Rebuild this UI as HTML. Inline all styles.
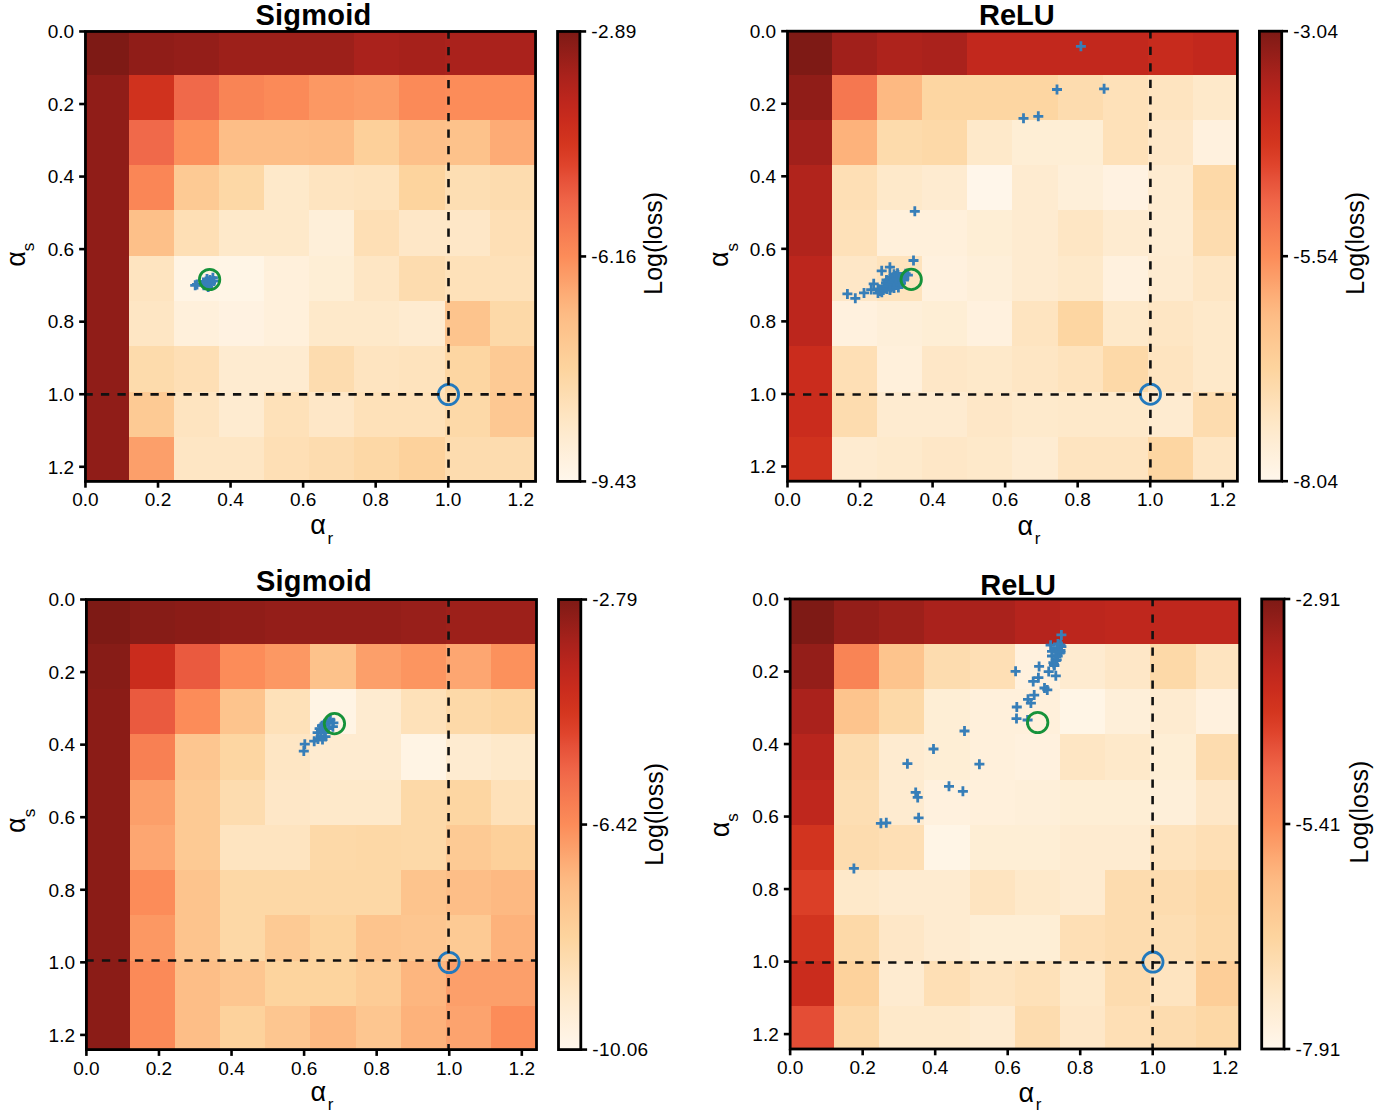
<!DOCTYPE html>
<html><head><meta charset="utf-8"><style>
html,body{margin:0;padding:0;background:#fff;}
body{width:1377px;height:1116px;overflow:hidden;}
svg{display:block;font-family:"Liberation Sans", sans-serif;}
</style></head><body>
<svg width="1377" height="1116" viewBox="0 0 1377 1116">
<g shape-rendering="crispEdges"><rect x="85.45" y="31.45" width="43.75" height="43.65" fill="#7e1a15"/><rect x="128.80" y="31.45" width="45.50" height="43.65" fill="#901d18"/><rect x="173.90" y="31.45" width="45.50" height="43.65" fill="#941e19"/><rect x="219.00" y="31.45" width="45.50" height="43.65" fill="#9d201a"/><rect x="264.10" y="31.45" width="45.50" height="43.65" fill="#9d201a"/><rect x="309.20" y="31.45" width="45.50" height="43.65" fill="#9d201a"/><rect x="354.30" y="31.45" width="45.50" height="43.65" fill="#aa221c"/><rect x="399.40" y="31.45" width="45.50" height="43.65" fill="#a6211b"/><rect x="444.50" y="31.45" width="45.50" height="43.65" fill="#aa221c"/><rect x="489.60" y="31.45" width="46.36" height="43.65" fill="#aa221c"/><rect x="85.45" y="74.70" width="43.75" height="45.66" fill="#901d18"/><rect x="128.80" y="74.70" width="45.50" height="45.66" fill="#d0321e"/><rect x="173.90" y="74.70" width="45.50" height="45.66" fill="#f0694a"/><rect x="219.00" y="74.70" width="45.50" height="45.66" fill="#f98455"/><rect x="264.10" y="74.70" width="45.50" height="45.66" fill="#fb8a58"/><rect x="309.20" y="74.70" width="45.50" height="45.66" fill="#fc9863"/><rect x="354.30" y="74.70" width="45.50" height="45.66" fill="#fc9c67"/><rect x="399.40" y="74.70" width="45.50" height="45.66" fill="#fb8a58"/><rect x="444.50" y="74.70" width="45.50" height="45.66" fill="#fc8c59"/><rect x="489.60" y="74.70" width="46.36" height="45.66" fill="#fc8c59"/><rect x="85.45" y="119.96" width="43.75" height="45.66" fill="#901d18"/><rect x="128.80" y="119.96" width="45.50" height="45.66" fill="#f0694a"/><rect x="173.90" y="119.96" width="45.50" height="45.66" fill="#fc915c"/><rect x="219.00" y="119.96" width="45.50" height="45.66" fill="#fdbe87"/><rect x="264.10" y="119.96" width="45.50" height="45.66" fill="#fdbe87"/><rect x="309.20" y="119.96" width="45.50" height="45.66" fill="#fdbc85"/><rect x="354.30" y="119.96" width="45.50" height="45.66" fill="#fdd09a"/><rect x="399.40" y="119.96" width="45.50" height="45.66" fill="#fdc089"/><rect x="444.50" y="119.96" width="45.50" height="45.66" fill="#fdc28b"/><rect x="489.60" y="119.96" width="46.36" height="45.66" fill="#fdab75"/><rect x="85.45" y="165.22" width="43.75" height="45.66" fill="#901d18"/><rect x="128.80" y="165.22" width="45.50" height="45.66" fill="#fa8656"/><rect x="173.90" y="165.22" width="45.50" height="45.66" fill="#fdca94"/><rect x="219.00" y="165.22" width="45.50" height="45.66" fill="#fdd8a6"/><rect x="264.10" y="165.22" width="45.50" height="45.66" fill="#fee9ca"/><rect x="309.20" y="165.22" width="45.50" height="45.66" fill="#fee4c0"/><rect x="354.30" y="165.22" width="45.50" height="45.66" fill="#fee3bd"/><rect x="399.40" y="165.22" width="45.50" height="45.66" fill="#fdd49e"/><rect x="444.50" y="165.22" width="45.50" height="45.66" fill="#fddeb3"/><rect x="489.60" y="165.22" width="46.36" height="45.66" fill="#fddcaf"/><rect x="85.45" y="210.48" width="43.75" height="45.66" fill="#901d18"/><rect x="128.80" y="210.48" width="45.50" height="45.66" fill="#fdc089"/><rect x="173.90" y="210.48" width="45.50" height="45.66" fill="#fedfb5"/><rect x="219.00" y="210.48" width="45.50" height="45.66" fill="#fee9ca"/><rect x="264.10" y="210.48" width="45.50" height="45.66" fill="#fee9ca"/><rect x="309.20" y="210.48" width="45.50" height="45.66" fill="#feefd9"/><rect x="354.30" y="210.48" width="45.50" height="45.66" fill="#fedfb5"/><rect x="399.40" y="210.48" width="45.50" height="45.66" fill="#fee7c7"/><rect x="444.50" y="210.48" width="45.50" height="45.66" fill="#fee7c7"/><rect x="489.60" y="210.48" width="46.36" height="45.66" fill="#fedfb5"/><rect x="85.45" y="255.74" width="43.75" height="45.66" fill="#901d18"/><rect x="128.80" y="255.74" width="45.50" height="45.66" fill="#fee4c0"/><rect x="173.90" y="255.74" width="45.50" height="45.66" fill="#fff4e4"/><rect x="219.00" y="255.74" width="45.50" height="45.66" fill="#fff5e6"/><rect x="264.10" y="255.74" width="45.50" height="45.66" fill="#fff0db"/><rect x="309.20" y="255.74" width="45.50" height="45.66" fill="#feeed5"/><rect x="354.30" y="255.74" width="45.50" height="45.66" fill="#fee6c4"/><rect x="399.40" y="255.74" width="45.50" height="45.66" fill="#fddcaf"/><rect x="444.50" y="255.74" width="45.50" height="45.66" fill="#fee1b9"/><rect x="489.60" y="255.74" width="46.36" height="45.66" fill="#fee1b9"/><rect x="85.45" y="301.00" width="43.75" height="45.66" fill="#901d18"/><rect x="128.80" y="301.00" width="45.50" height="45.66" fill="#fee6c4"/><rect x="173.90" y="301.00" width="45.50" height="45.66" fill="#fff0db"/><rect x="219.00" y="301.00" width="45.50" height="45.66" fill="#fff2e1"/><rect x="264.10" y="301.00" width="45.50" height="45.66" fill="#fff0db"/><rect x="309.20" y="301.00" width="45.50" height="45.66" fill="#fee9ca"/><rect x="354.30" y="301.00" width="45.50" height="45.66" fill="#fee9ca"/><rect x="399.40" y="301.00" width="45.50" height="45.66" fill="#feebd0"/><rect x="444.50" y="301.00" width="45.50" height="45.66" fill="#fdc48d"/><rect x="489.60" y="301.00" width="46.36" height="45.66" fill="#fdd9a8"/><rect x="85.45" y="346.26" width="43.75" height="45.66" fill="#901d18"/><rect x="128.80" y="346.26" width="45.50" height="45.66" fill="#fddbac"/><rect x="173.90" y="346.26" width="45.50" height="45.66" fill="#fedfb5"/><rect x="219.00" y="346.26" width="45.50" height="45.66" fill="#feebd0"/><rect x="264.10" y="346.26" width="45.50" height="45.66" fill="#feebd0"/><rect x="309.20" y="346.26" width="45.50" height="45.66" fill="#fddcaf"/><rect x="354.30" y="346.26" width="45.50" height="45.66" fill="#fee4c0"/><rect x="399.40" y="346.26" width="45.50" height="45.66" fill="#fee3bd"/><rect x="444.50" y="346.26" width="45.50" height="45.66" fill="#fdd6a2"/><rect x="489.60" y="346.26" width="46.36" height="45.66" fill="#fdca94"/><rect x="85.45" y="391.52" width="43.75" height="45.66" fill="#901d18"/><rect x="128.80" y="391.52" width="45.50" height="45.66" fill="#fdca94"/><rect x="173.90" y="391.52" width="45.50" height="45.66" fill="#fee4c0"/><rect x="219.00" y="391.52" width="45.50" height="45.66" fill="#feebd0"/><rect x="264.10" y="391.52" width="45.50" height="45.66" fill="#fee1b9"/><rect x="309.20" y="391.52" width="45.50" height="45.66" fill="#fee7c7"/><rect x="354.30" y="391.52" width="45.50" height="45.66" fill="#fee1b9"/><rect x="399.40" y="391.52" width="45.50" height="45.66" fill="#fee1b9"/><rect x="444.50" y="391.52" width="45.50" height="45.66" fill="#fdd9a8"/><rect x="489.60" y="391.52" width="46.36" height="45.66" fill="#fdc892"/><rect x="85.45" y="436.78" width="43.75" height="45.02" fill="#901d18"/><rect x="128.80" y="436.78" width="45.50" height="45.02" fill="#fc9f6a"/><rect x="173.90" y="436.78" width="45.50" height="45.02" fill="#fee6c4"/><rect x="219.00" y="436.78" width="45.50" height="45.02" fill="#fee6c4"/><rect x="264.10" y="436.78" width="45.50" height="45.02" fill="#fedfb5"/><rect x="309.20" y="436.78" width="45.50" height="45.02" fill="#fddcaf"/><rect x="354.30" y="436.78" width="45.50" height="45.02" fill="#fdd8a6"/><rect x="399.40" y="436.78" width="45.50" height="45.02" fill="#fdd29c"/><rect x="444.50" y="436.78" width="45.50" height="45.02" fill="#fddcaf"/><rect x="489.60" y="436.78" width="46.36" height="45.02" fill="#fddcaf"/></g>
<circle cx="448.50" cy="394.50" r="10.1" stroke="#2379bd" stroke-width="2.8" fill="none"/>
<line x1="448.50" y1="31.45" x2="448.50" y2="481.40" stroke="#111" stroke-width="2.6" stroke-dasharray="8.3 8.2" stroke-dashoffset="1.0"/>
<line x1="85.45" y1="394.40" x2="535.56" y2="394.40" stroke="#111" stroke-width="2.6" stroke-dasharray="8.3 8.2" stroke-dashoffset="1.0"/>
<path d="M190.20 285.30h10M195.20 280.30v10" stroke="#377eb8" stroke-width="2.8" fill="none"/>
<path d="M192.00 284.50h10M197.00 279.50v10" stroke="#377eb8" stroke-width="2.8" fill="none"/>
<path d="M198.80 285.20h10M203.80 280.20v10" stroke="#377eb8" stroke-width="2.8" fill="none"/>
<path d="M201.00 281.50h10M206.00 276.50v10" stroke="#377eb8" stroke-width="2.8" fill="none"/>
<path d="M203.20 287.00h10M208.20 282.00v10" stroke="#377eb8" stroke-width="2.8" fill="none"/>
<path d="M202.00 278.90h10M207.00 273.90v10" stroke="#377eb8" stroke-width="2.8" fill="none"/>
<path d="M205.00 280.00h10M210.00 275.00v10" stroke="#377eb8" stroke-width="2.8" fill="none"/>
<path d="M207.90 277.70h10M212.90 272.70v10" stroke="#377eb8" stroke-width="2.8" fill="none"/>
<path d="M206.00 283.00h10M211.00 278.00v10" stroke="#377eb8" stroke-width="2.8" fill="none"/>
<path d="M209.00 281.00h10M214.00 276.00v10" stroke="#377eb8" stroke-width="2.8" fill="none"/>
<path d="M200.00 283.00h10M205.00 278.00v10" stroke="#377eb8" stroke-width="2.8" fill="none"/>
<path d="M204.00 284.00h10M209.00 279.00v10" stroke="#377eb8" stroke-width="2.8" fill="none"/>
<circle cx="209.60" cy="279.50" r="10.2" stroke="#16923a" stroke-width="2.8" fill="none"/>
<rect x="85.45" y="31.45" width="450.11" height="449.95" fill="none" stroke="#000" stroke-width="2.8"/>
<line x1="79.15" y1="31.45" x2="85.45" y2="31.45" stroke="#000" stroke-width="2.6"/>
<text x="74.05" y="38.25" text-anchor="end" font-size="19">0.0</text>
<line x1="85.45" y1="481.40" x2="85.45" y2="487.70" stroke="#000" stroke-width="2.6"/>
<text x="85.45" y="506.40" text-anchor="middle" font-size="19">0.0</text>
<line x1="79.15" y1="104.01" x2="85.45" y2="104.01" stroke="#000" stroke-width="2.6"/>
<text x="74.05" y="110.81" text-anchor="end" font-size="19">0.2</text>
<line x1="158.01" y1="481.40" x2="158.01" y2="487.70" stroke="#000" stroke-width="2.6"/>
<text x="158.01" y="506.40" text-anchor="middle" font-size="19">0.2</text>
<line x1="79.15" y1="176.56" x2="85.45" y2="176.56" stroke="#000" stroke-width="2.6"/>
<text x="74.05" y="183.36" text-anchor="end" font-size="19">0.4</text>
<line x1="230.56" y1="481.40" x2="230.56" y2="487.70" stroke="#000" stroke-width="2.6"/>
<text x="230.56" y="506.40" text-anchor="middle" font-size="19">0.4</text>
<line x1="79.15" y1="249.12" x2="85.45" y2="249.12" stroke="#000" stroke-width="2.6"/>
<text x="74.05" y="255.92" text-anchor="end" font-size="19">0.6</text>
<line x1="303.12" y1="481.40" x2="303.12" y2="487.70" stroke="#000" stroke-width="2.6"/>
<text x="303.12" y="506.40" text-anchor="middle" font-size="19">0.6</text>
<line x1="79.15" y1="321.67" x2="85.45" y2="321.67" stroke="#000" stroke-width="2.6"/>
<text x="74.05" y="328.47" text-anchor="end" font-size="19">0.8</text>
<line x1="375.67" y1="481.40" x2="375.67" y2="487.70" stroke="#000" stroke-width="2.6"/>
<text x="375.67" y="506.40" text-anchor="middle" font-size="19">0.8</text>
<line x1="79.15" y1="394.23" x2="85.45" y2="394.23" stroke="#000" stroke-width="2.6"/>
<text x="74.05" y="401.03" text-anchor="end" font-size="19">1.0</text>
<line x1="448.23" y1="481.40" x2="448.23" y2="487.70" stroke="#000" stroke-width="2.6"/>
<text x="448.23" y="506.40" text-anchor="middle" font-size="19">1.0</text>
<line x1="79.15" y1="466.79" x2="85.45" y2="466.79" stroke="#000" stroke-width="2.6"/>
<text x="74.05" y="473.59" text-anchor="end" font-size="19">1.2</text>
<line x1="520.79" y1="481.40" x2="520.79" y2="487.70" stroke="#000" stroke-width="2.6"/>
<text x="520.79" y="506.40" text-anchor="middle" font-size="19">1.2</text>
<text x="310.25" y="534.40" font-size="27">α</text>
<text x="327.45" y="543.80" font-size="17">r</text>
<g transform="translate(25.05 266.85) rotate(-90)"><text x="0" y="0" font-size="27">α</text><text x="15.6" y="9.4" font-size="17">s</text></g>
<text x="313.50" y="25.00" text-anchor="middle" font-size="29" font-weight="bold" letter-spacing="0.25">Sigmoid</text>
<defs><linearGradient id="gTL" x1="0" y1="1" x2="0" y2="0"><stop offset="0.000" stop-color="#fff7ec"/><stop offset="0.025" stop-color="#fff4e5"/><stop offset="0.050" stop-color="#fff1de"/><stop offset="0.075" stop-color="#feeed7"/><stop offset="0.100" stop-color="#feebd0"/><stop offset="0.125" stop-color="#fee8c8"/><stop offset="0.150" stop-color="#fee4c0"/><stop offset="0.175" stop-color="#fee0b8"/><stop offset="0.200" stop-color="#fddcaf"/><stop offset="0.225" stop-color="#fdd8a7"/><stop offset="0.250" stop-color="#fdd49e"/><stop offset="0.275" stop-color="#fdcf99"/><stop offset="0.300" stop-color="#fdca94"/><stop offset="0.325" stop-color="#fdc58e"/><stop offset="0.350" stop-color="#fdc089"/><stop offset="0.375" stop-color="#fdba83"/><stop offset="0.400" stop-color="#fdb27b"/><stop offset="0.425" stop-color="#fda973"/><stop offset="0.450" stop-color="#fc9f6a"/><stop offset="0.475" stop-color="#fc9662"/><stop offset="0.500" stop-color="#fc8c59"/><stop offset="0.525" stop-color="#f98556"/><stop offset="0.550" stop-color="#f77d52"/><stop offset="0.575" stop-color="#f4754f"/><stop offset="0.600" stop-color="#f26d4b"/><stop offset="0.625" stop-color="#ef6447"/><stop offset="0.650" stop-color="#ea5a3f"/><stop offset="0.675" stop-color="#e55038"/><stop offset="0.700" stop-color="#e0452d"/><stop offset="0.725" stop-color="#da3d26"/><stop offset="0.750" stop-color="#d4361f"/><stop offset="0.775" stop-color="#cf311e"/><stop offset="0.800" stop-color="#ca2c1d"/><stop offset="0.825" stop-color="#c3291d"/><stop offset="0.850" stop-color="#bc261d"/><stop offset="0.875" stop-color="#b3241c"/><stop offset="0.900" stop-color="#aa221c"/><stop offset="0.925" stop-color="#9f201a"/><stop offset="0.950" stop-color="#941e19"/><stop offset="0.975" stop-color="#891c17"/><stop offset="1.000" stop-color="#7e1a15"/></linearGradient></defs>
<rect x="557.56" y="31.45" width="22.30" height="449.95" fill="url(#gTL)" stroke="#000" stroke-width="2.8"/>
<line x1="579.86" y1="31.45" x2="586.16" y2="31.45" stroke="#000" stroke-width="2.6"/>
<text x="591.36" y="38.15" font-size="19" letter-spacing="0.4">-2.89</text>
<line x1="579.86" y1="256.43" x2="586.16" y2="256.43" stroke="#000" stroke-width="2.6"/>
<text x="591.36" y="263.12" font-size="19" letter-spacing="0.4">-6.16</text>
<line x1="579.86" y1="481.40" x2="586.16" y2="481.40" stroke="#000" stroke-width="2.6"/>
<text x="591.36" y="488.10" font-size="19" letter-spacing="0.4">-9.43</text>
<text transform="translate(661.70 243.35) rotate(-90)" text-anchor="middle" font-size="25">Log(loss)</text>
<g shape-rendering="crispEdges"><rect x="787.50" y="31.20" width="44.80" height="43.90" fill="#7e1a15"/><rect x="831.90" y="31.20" width="45.52" height="43.90" fill="#a1201b"/><rect x="877.02" y="31.20" width="45.52" height="43.90" fill="#ae231c"/><rect x="922.15" y="31.20" width="45.52" height="43.90" fill="#aa221c"/><rect x="967.27" y="31.20" width="45.52" height="43.90" fill="#c2281d"/><rect x="1012.40" y="31.20" width="45.53" height="43.90" fill="#c2281d"/><rect x="1057.53" y="31.20" width="45.52" height="43.90" fill="#c2281d"/><rect x="1102.65" y="31.20" width="45.52" height="43.90" fill="#c2281d"/><rect x="1147.78" y="31.20" width="45.52" height="43.90" fill="#c72b1d"/><rect x="1192.90" y="31.20" width="44.90" height="43.90" fill="#c2281d"/><rect x="787.50" y="74.70" width="44.80" height="45.66" fill="#901d18"/><rect x="831.90" y="74.70" width="45.52" height="45.66" fill="#f57750"/><rect x="877.02" y="74.70" width="45.52" height="45.66" fill="#fdb982"/><rect x="922.15" y="74.70" width="45.52" height="45.66" fill="#fdd6a2"/><rect x="967.27" y="74.70" width="45.52" height="45.66" fill="#fdd6a2"/><rect x="1012.40" y="74.70" width="45.53" height="45.66" fill="#fdd6a2"/><rect x="1057.53" y="74.70" width="45.52" height="45.66" fill="#fddcaf"/><rect x="1102.65" y="74.70" width="45.52" height="45.66" fill="#fee1b9"/><rect x="1147.78" y="74.70" width="45.52" height="45.66" fill="#fee4c0"/><rect x="1192.90" y="74.70" width="44.90" height="45.66" fill="#fee9ca"/><rect x="787.50" y="119.96" width="44.80" height="45.66" fill="#a1201b"/><rect x="831.90" y="119.96" width="45.52" height="45.66" fill="#fdb27b"/><rect x="877.02" y="119.96" width="45.52" height="45.66" fill="#fddbac"/><rect x="922.15" y="119.96" width="45.52" height="45.66" fill="#fdd9a8"/><rect x="967.27" y="119.96" width="45.52" height="45.66" fill="#fee9ca"/><rect x="1012.40" y="119.96" width="45.53" height="45.66" fill="#feeed5"/><rect x="1057.53" y="119.96" width="45.52" height="45.66" fill="#feeed5"/><rect x="1102.65" y="119.96" width="45.52" height="45.66" fill="#fee1b9"/><rect x="1147.78" y="119.96" width="45.52" height="45.66" fill="#fee7c7"/><rect x="1192.90" y="119.96" width="44.90" height="45.66" fill="#fff1de"/><rect x="787.50" y="165.22" width="44.80" height="45.66" fill="#b1241c"/><rect x="831.90" y="165.22" width="45.52" height="45.66" fill="#fedfb5"/><rect x="877.02" y="165.22" width="45.52" height="45.66" fill="#fee9ca"/><rect x="922.15" y="165.22" width="45.52" height="45.66" fill="#feebd0"/><rect x="967.27" y="165.22" width="45.52" height="45.66" fill="#fff6ea"/><rect x="1012.40" y="165.22" width="45.53" height="45.66" fill="#feebd0"/><rect x="1057.53" y="165.22" width="45.52" height="45.66" fill="#feefd9"/><rect x="1102.65" y="165.22" width="45.52" height="45.66" fill="#fff2e1"/><rect x="1147.78" y="165.22" width="45.52" height="45.66" fill="#feebd0"/><rect x="1192.90" y="165.22" width="44.90" height="45.66" fill="#fdd9a8"/><rect x="787.50" y="210.48" width="44.80" height="45.66" fill="#b1241c"/><rect x="831.90" y="210.48" width="45.52" height="45.66" fill="#fee1b9"/><rect x="877.02" y="210.48" width="45.52" height="45.66" fill="#fff0db"/><rect x="922.15" y="210.48" width="45.52" height="45.66" fill="#fff0db"/><rect x="967.27" y="210.48" width="45.52" height="45.66" fill="#feeed5"/><rect x="1012.40" y="210.48" width="45.53" height="45.66" fill="#feebd0"/><rect x="1057.53" y="210.48" width="45.52" height="45.66" fill="#fee6c4"/><rect x="1102.65" y="210.48" width="45.52" height="45.66" fill="#feebd0"/><rect x="1147.78" y="210.48" width="45.52" height="45.66" fill="#feecd2"/><rect x="1192.90" y="210.48" width="44.90" height="45.66" fill="#fddcaf"/><rect x="787.50" y="255.74" width="44.80" height="45.66" fill="#bc261d"/><rect x="831.90" y="255.74" width="45.52" height="45.66" fill="#fee7c7"/><rect x="877.02" y="255.74" width="45.52" height="45.66" fill="#fee3bd"/><rect x="922.15" y="255.74" width="45.52" height="45.66" fill="#fff1de"/><rect x="967.27" y="255.74" width="45.52" height="45.66" fill="#feefd9"/><rect x="1012.40" y="255.74" width="45.53" height="45.66" fill="#feebd0"/><rect x="1057.53" y="255.74" width="45.52" height="45.66" fill="#fee9ca"/><rect x="1102.65" y="255.74" width="45.52" height="45.66" fill="#fff1de"/><rect x="1147.78" y="255.74" width="45.52" height="45.66" fill="#feebd0"/><rect x="1192.90" y="255.74" width="44.90" height="45.66" fill="#fee6c4"/><rect x="787.50" y="301.00" width="44.80" height="45.66" fill="#bc261d"/><rect x="831.90" y="301.00" width="45.52" height="45.66" fill="#fff1de"/><rect x="877.02" y="301.00" width="45.52" height="45.66" fill="#feefd9"/><rect x="922.15" y="301.00" width="45.52" height="45.66" fill="#feeed5"/><rect x="967.27" y="301.00" width="45.52" height="45.66" fill="#fff1de"/><rect x="1012.40" y="301.00" width="45.53" height="45.66" fill="#fee4c0"/><rect x="1057.53" y="301.00" width="45.52" height="45.66" fill="#fdd6a2"/><rect x="1102.65" y="301.00" width="45.52" height="45.66" fill="#fee9ca"/><rect x="1147.78" y="301.00" width="45.52" height="45.66" fill="#fee6c4"/><rect x="1192.90" y="301.00" width="44.90" height="45.66" fill="#fee9ca"/><rect x="787.50" y="346.26" width="44.80" height="45.66" fill="#ca2c1d"/><rect x="831.90" y="346.26" width="45.52" height="45.66" fill="#fedfb5"/><rect x="877.02" y="346.26" width="45.52" height="45.66" fill="#fff0db"/><rect x="922.15" y="346.26" width="45.52" height="45.66" fill="#fee7c7"/><rect x="967.27" y="346.26" width="45.52" height="45.66" fill="#fee9ca"/><rect x="1012.40" y="346.26" width="45.53" height="45.66" fill="#fee6c4"/><rect x="1057.53" y="346.26" width="45.52" height="45.66" fill="#fee3bd"/><rect x="1102.65" y="346.26" width="45.52" height="45.66" fill="#fdd9a8"/><rect x="1147.78" y="346.26" width="45.52" height="45.66" fill="#fee4c0"/><rect x="1192.90" y="346.26" width="44.90" height="45.66" fill="#fee9ca"/><rect x="787.50" y="391.52" width="44.80" height="45.66" fill="#ca2c1d"/><rect x="831.90" y="391.52" width="45.52" height="45.66" fill="#fddcaf"/><rect x="877.02" y="391.52" width="45.52" height="45.66" fill="#feebd0"/><rect x="922.15" y="391.52" width="45.52" height="45.66" fill="#feebd0"/><rect x="967.27" y="391.52" width="45.52" height="45.66" fill="#fee7c7"/><rect x="1012.40" y="391.52" width="45.53" height="45.66" fill="#feeacc"/><rect x="1057.53" y="391.52" width="45.52" height="45.66" fill="#fee9ca"/><rect x="1102.65" y="391.52" width="45.52" height="45.66" fill="#fee9ca"/><rect x="1147.78" y="391.52" width="45.52" height="45.66" fill="#feebd0"/><rect x="1192.90" y="391.52" width="44.90" height="45.66" fill="#fddcaf"/><rect x="787.50" y="436.78" width="44.80" height="44.82" fill="#d0321e"/><rect x="831.90" y="436.78" width="45.52" height="44.82" fill="#feebd0"/><rect x="877.02" y="436.78" width="45.52" height="44.82" fill="#feeacc"/><rect x="922.15" y="436.78" width="45.52" height="44.82" fill="#fee7c7"/><rect x="967.27" y="436.78" width="45.52" height="44.82" fill="#fee9ca"/><rect x="1012.40" y="436.78" width="45.53" height="44.82" fill="#feecd2"/><rect x="1057.53" y="436.78" width="45.52" height="44.82" fill="#fee4c0"/><rect x="1102.65" y="436.78" width="45.52" height="44.82" fill="#fee4c0"/><rect x="1147.78" y="436.78" width="45.52" height="44.82" fill="#fdd6a2"/><rect x="1192.90" y="436.78" width="44.90" height="44.82" fill="#fee6c4"/></g>
<circle cx="1150.40" cy="394.20" r="10.1" stroke="#2379bd" stroke-width="2.8" fill="none"/>
<line x1="1150.40" y1="31.20" x2="1150.40" y2="481.20" stroke="#111" stroke-width="2.6" stroke-dasharray="8.3 8.2" stroke-dashoffset="1.0"/>
<line x1="787.50" y1="394.55" x2="1237.40" y2="394.55" stroke="#111" stroke-width="2.6" stroke-dasharray="8.3 8.2" stroke-dashoffset="1.0"/>
<path d="M1075.90 46.30h10M1080.90 41.30v10" stroke="#377eb8" stroke-width="2.8" fill="none"/>
<path d="M1052.00 89.50h10M1057.00 84.50v10" stroke="#377eb8" stroke-width="2.8" fill="none"/>
<path d="M1099.10 88.80h10M1104.10 83.80v10" stroke="#377eb8" stroke-width="2.8" fill="none"/>
<path d="M1018.50 118.30h10M1023.50 113.30v10" stroke="#377eb8" stroke-width="2.8" fill="none"/>
<path d="M1033.30 116.30h10M1038.30 111.30v10" stroke="#377eb8" stroke-width="2.8" fill="none"/>
<path d="M909.80 211.30h10M914.80 206.30v10" stroke="#377eb8" stroke-width="2.8" fill="none"/>
<path d="M908.50 260.50h10M913.50 255.50v10" stroke="#377eb8" stroke-width="2.8" fill="none"/>
<path d="M842.40 293.90h10M847.40 288.90v10" stroke="#377eb8" stroke-width="2.8" fill="none"/>
<path d="M850.30 298.30h10M855.30 293.30v10" stroke="#377eb8" stroke-width="2.8" fill="none"/>
<path d="M859.00 292.90h10M864.00 287.90v10" stroke="#377eb8" stroke-width="2.8" fill="none"/>
<path d="M866.20 289.60h10M871.20 284.60v10" stroke="#377eb8" stroke-width="2.8" fill="none"/>
<path d="M868.70 283.80h10M873.70 278.80v10" stroke="#377eb8" stroke-width="2.8" fill="none"/>
<path d="M876.70 270.80h10M881.70 265.80v10" stroke="#377eb8" stroke-width="2.8" fill="none"/>
<path d="M884.90 267.20h10M889.90 262.20v10" stroke="#377eb8" stroke-width="2.8" fill="none"/>
<path d="M876.80 292.20h10M881.80 287.20v10" stroke="#377eb8" stroke-width="2.8" fill="none"/>
<path d="M878.30 289.90h10M883.30 284.90v10" stroke="#377eb8" stroke-width="2.8" fill="none"/>
<path d="M880.30 286.40h10M885.30 281.40v10" stroke="#377eb8" stroke-width="2.8" fill="none"/>
<path d="M886.10 287.50h10M891.10 282.50v10" stroke="#377eb8" stroke-width="2.8" fill="none"/>
<path d="M893.40 287.50h10M898.40 282.50v10" stroke="#377eb8" stroke-width="2.8" fill="none"/>
<path d="M892.50 273.30h10M897.50 268.30v10" stroke="#377eb8" stroke-width="2.8" fill="none"/>
<path d="M889.00 274.20h10M894.00 269.20v10" stroke="#377eb8" stroke-width="2.8" fill="none"/>
<path d="M885.00 277.10h10M890.00 272.10v10" stroke="#377eb8" stroke-width="2.8" fill="none"/>
<path d="M881.50 280.00h10M886.50 275.00v10" stroke="#377eb8" stroke-width="2.8" fill="none"/>
<path d="M900.70 273.70h10M905.70 268.70v10" stroke="#377eb8" stroke-width="2.8" fill="none"/>
<path d="M902.90 275.20h10M907.90 270.20v10" stroke="#377eb8" stroke-width="2.8" fill="none"/>
<path d="M898.90 280.00h10M903.90 275.00v10" stroke="#377eb8" stroke-width="2.8" fill="none"/>
<path d="M889.60 281.10h10M894.60 276.10v10" stroke="#377eb8" stroke-width="2.8" fill="none"/>
<path d="M893.10 282.90h10M898.10 277.90v10" stroke="#377eb8" stroke-width="2.8" fill="none"/>
<path d="M883.00 283.00h10M888.00 278.00v10" stroke="#377eb8" stroke-width="2.8" fill="none"/>
<path d="M887.00 284.00h10M892.00 279.00v10" stroke="#377eb8" stroke-width="2.8" fill="none"/>
<path d="M873.00 289.00h10M878.00 284.00v10" stroke="#377eb8" stroke-width="2.8" fill="none"/>
<path d="M879.00 286.00h10M884.00 281.00v10" stroke="#377eb8" stroke-width="2.8" fill="none"/>
<path d="M881.00 283.00h10M886.00 278.00v10" stroke="#377eb8" stroke-width="2.8" fill="none"/>
<path d="M883.00 281.00h10M888.00 276.00v10" stroke="#377eb8" stroke-width="2.8" fill="none"/>
<path d="M885.00 279.00h10M890.00 274.00v10" stroke="#377eb8" stroke-width="2.8" fill="none"/>
<path d="M887.00 278.00h10M892.00 273.00v10" stroke="#377eb8" stroke-width="2.8" fill="none"/>
<path d="M889.00 277.00h10M894.00 272.00v10" stroke="#377eb8" stroke-width="2.8" fill="none"/>
<path d="M891.00 276.00h10M896.00 271.00v10" stroke="#377eb8" stroke-width="2.8" fill="none"/>
<path d="M893.00 275.00h10M898.00 270.00v10" stroke="#377eb8" stroke-width="2.8" fill="none"/>
<path d="M895.00 277.00h10M900.00 272.00v10" stroke="#377eb8" stroke-width="2.8" fill="none"/>
<path d="M897.00 279.00h10M902.00 274.00v10" stroke="#377eb8" stroke-width="2.8" fill="none"/>
<path d="M882.00 289.00h10M887.00 284.00v10" stroke="#377eb8" stroke-width="2.8" fill="none"/>
<path d="M884.00 286.00h10M889.00 281.00v10" stroke="#377eb8" stroke-width="2.8" fill="none"/>
<path d="M886.00 284.00h10M891.00 279.00v10" stroke="#377eb8" stroke-width="2.8" fill="none"/>
<path d="M888.00 282.00h10M893.00 277.00v10" stroke="#377eb8" stroke-width="2.8" fill="none"/>
<path d="M890.00 280.00h10M895.00 275.00v10" stroke="#377eb8" stroke-width="2.8" fill="none"/>
<path d="M892.00 279.00h10M897.00 274.00v10" stroke="#377eb8" stroke-width="2.8" fill="none"/>
<path d="M894.00 280.00h10M899.00 275.00v10" stroke="#377eb8" stroke-width="2.8" fill="none"/>
<path d="M896.00 283.00h10M901.00 278.00v10" stroke="#377eb8" stroke-width="2.8" fill="none"/>
<path d="M891.00 285.00h10M896.00 280.00v10" stroke="#377eb8" stroke-width="2.8" fill="none"/>
<path d="M889.00 288.00h10M894.00 283.00v10" stroke="#377eb8" stroke-width="2.8" fill="none"/>
<path d="M885.00 290.00h10M890.00 285.00v10" stroke="#377eb8" stroke-width="2.8" fill="none"/>
<path d="M875.00 291.00h10M880.00 286.00v10" stroke="#377eb8" stroke-width="2.8" fill="none"/>
<path d="M873.00 293.00h10M878.00 288.00v10" stroke="#377eb8" stroke-width="2.8" fill="none"/>
<circle cx="911.20" cy="279.40" r="10.2" stroke="#16923a" stroke-width="2.8" fill="none"/>
<rect x="787.50" y="31.20" width="449.90" height="450.00" fill="none" stroke="#000" stroke-width="2.8"/>
<line x1="781.20" y1="31.20" x2="787.50" y2="31.20" stroke="#000" stroke-width="2.6"/>
<text x="776.10" y="38.00" text-anchor="end" font-size="19">0.0</text>
<line x1="787.50" y1="481.20" x2="787.50" y2="487.50" stroke="#000" stroke-width="2.6"/>
<text x="787.50" y="506.20" text-anchor="middle" font-size="19">0.0</text>
<line x1="781.20" y1="103.74" x2="787.50" y2="103.74" stroke="#000" stroke-width="2.6"/>
<text x="776.10" y="110.54" text-anchor="end" font-size="19">0.2</text>
<line x1="860.04" y1="481.20" x2="860.04" y2="487.50" stroke="#000" stroke-width="2.6"/>
<text x="860.04" y="506.20" text-anchor="middle" font-size="19">0.2</text>
<line x1="781.20" y1="176.29" x2="787.50" y2="176.29" stroke="#000" stroke-width="2.6"/>
<text x="776.10" y="183.09" text-anchor="end" font-size="19">0.4</text>
<line x1="932.59" y1="481.20" x2="932.59" y2="487.50" stroke="#000" stroke-width="2.6"/>
<text x="932.59" y="506.20" text-anchor="middle" font-size="19">0.4</text>
<line x1="781.20" y1="248.83" x2="787.50" y2="248.83" stroke="#000" stroke-width="2.6"/>
<text x="776.10" y="255.63" text-anchor="end" font-size="19">0.6</text>
<line x1="1005.13" y1="481.20" x2="1005.13" y2="487.50" stroke="#000" stroke-width="2.6"/>
<text x="1005.13" y="506.20" text-anchor="middle" font-size="19">0.6</text>
<line x1="781.20" y1="321.37" x2="787.50" y2="321.37" stroke="#000" stroke-width="2.6"/>
<text x="776.10" y="328.17" text-anchor="end" font-size="19">0.8</text>
<line x1="1077.67" y1="481.20" x2="1077.67" y2="487.50" stroke="#000" stroke-width="2.6"/>
<text x="1077.67" y="506.20" text-anchor="middle" font-size="19">0.8</text>
<line x1="781.20" y1="393.92" x2="787.50" y2="393.92" stroke="#000" stroke-width="2.6"/>
<text x="776.10" y="400.72" text-anchor="end" font-size="19">1.0</text>
<line x1="1150.22" y1="481.20" x2="1150.22" y2="487.50" stroke="#000" stroke-width="2.6"/>
<text x="1150.22" y="506.20" text-anchor="middle" font-size="19">1.0</text>
<line x1="781.20" y1="466.46" x2="787.50" y2="466.46" stroke="#000" stroke-width="2.6"/>
<text x="776.10" y="473.26" text-anchor="end" font-size="19">1.2</text>
<line x1="1222.76" y1="481.20" x2="1222.76" y2="487.50" stroke="#000" stroke-width="2.6"/>
<text x="1222.76" y="506.20" text-anchor="middle" font-size="19">1.2</text>
<text x="1017.55" y="534.90" font-size="27">α</text>
<text x="1034.85" y="543.80" font-size="17">r</text>
<g transform="translate(728.20 267.10) rotate(-90)"><text x="0" y="0" font-size="27">α</text><text x="15.6" y="9.4" font-size="17">s</text></g>
<text x="1016.90" y="24.80" text-anchor="middle" font-size="29" font-weight="bold">ReLU</text>
<defs><linearGradient id="gTR" x1="0" y1="1" x2="0" y2="0"><stop offset="0.000" stop-color="#fff7ec"/><stop offset="0.025" stop-color="#fff4e5"/><stop offset="0.050" stop-color="#fff1de"/><stop offset="0.075" stop-color="#feeed7"/><stop offset="0.100" stop-color="#feebd0"/><stop offset="0.125" stop-color="#fee8c8"/><stop offset="0.150" stop-color="#fee4c0"/><stop offset="0.175" stop-color="#fee0b8"/><stop offset="0.200" stop-color="#fddcaf"/><stop offset="0.225" stop-color="#fdd8a7"/><stop offset="0.250" stop-color="#fdd49e"/><stop offset="0.275" stop-color="#fdcf99"/><stop offset="0.300" stop-color="#fdca94"/><stop offset="0.325" stop-color="#fdc58e"/><stop offset="0.350" stop-color="#fdc089"/><stop offset="0.375" stop-color="#fdba83"/><stop offset="0.400" stop-color="#fdb27b"/><stop offset="0.425" stop-color="#fda973"/><stop offset="0.450" stop-color="#fc9f6a"/><stop offset="0.475" stop-color="#fc9662"/><stop offset="0.500" stop-color="#fc8c59"/><stop offset="0.525" stop-color="#f98556"/><stop offset="0.550" stop-color="#f77d52"/><stop offset="0.575" stop-color="#f4754f"/><stop offset="0.600" stop-color="#f26d4b"/><stop offset="0.625" stop-color="#ef6447"/><stop offset="0.650" stop-color="#ea5a3f"/><stop offset="0.675" stop-color="#e55038"/><stop offset="0.700" stop-color="#e0452d"/><stop offset="0.725" stop-color="#da3d26"/><stop offset="0.750" stop-color="#d4361f"/><stop offset="0.775" stop-color="#cf311e"/><stop offset="0.800" stop-color="#ca2c1d"/><stop offset="0.825" stop-color="#c3291d"/><stop offset="0.850" stop-color="#bc261d"/><stop offset="0.875" stop-color="#b3241c"/><stop offset="0.900" stop-color="#aa221c"/><stop offset="0.925" stop-color="#9f201a"/><stop offset="0.950" stop-color="#941e19"/><stop offset="0.975" stop-color="#891c17"/><stop offset="1.000" stop-color="#7e1a15"/></linearGradient></defs>
<rect x="1259.40" y="31.20" width="22.30" height="450.00" fill="url(#gTR)" stroke="#000" stroke-width="2.8"/>
<line x1="1281.70" y1="31.20" x2="1288.00" y2="31.20" stroke="#000" stroke-width="2.6"/>
<text x="1293.20" y="37.90" font-size="19" letter-spacing="0.4">-3.04</text>
<line x1="1281.70" y1="256.20" x2="1288.00" y2="256.20" stroke="#000" stroke-width="2.6"/>
<text x="1293.20" y="262.90" font-size="19" letter-spacing="0.4">-5.54</text>
<line x1="1281.70" y1="481.20" x2="1288.00" y2="481.20" stroke="#000" stroke-width="2.6"/>
<text x="1293.20" y="487.90" font-size="19" letter-spacing="0.4">-8.04</text>
<text transform="translate(1364.05 243.25) rotate(-90)" text-anchor="middle" font-size="25">Log(loss)</text>
<g shape-rendering="crispEdges"><rect x="86.40" y="599.50" width="43.90" height="44.70" fill="#7e1a15"/><rect x="129.90" y="599.50" width="45.52" height="44.70" fill="#871c17"/><rect x="175.03" y="599.50" width="45.52" height="44.70" fill="#8b1c17"/><rect x="220.15" y="599.50" width="45.52" height="44.70" fill="#901d18"/><rect x="265.27" y="599.50" width="45.52" height="44.70" fill="#941e19"/><rect x="310.40" y="599.50" width="45.52" height="44.70" fill="#941e19"/><rect x="355.52" y="599.50" width="45.52" height="44.70" fill="#941e19"/><rect x="400.65" y="599.50" width="45.52" height="44.70" fill="#981f1a"/><rect x="445.77" y="599.50" width="45.52" height="44.70" fill="#9d201a"/><rect x="490.90" y="599.50" width="46.00" height="44.70" fill="#9d201a"/><rect x="86.40" y="643.80" width="43.90" height="45.66" fill="#871c17"/><rect x="129.90" y="643.80" width="45.52" height="45.66" fill="#ca2c1d"/><rect x="175.03" y="643.80" width="45.52" height="45.66" fill="#ea5a3f"/><rect x="220.15" y="643.80" width="45.52" height="45.66" fill="#fc8c59"/><rect x="265.27" y="643.80" width="45.52" height="45.66" fill="#fc9863"/><rect x="310.40" y="643.80" width="45.52" height="45.66" fill="#fdc28b"/><rect x="355.52" y="643.80" width="45.52" height="45.66" fill="#fc9f6a"/><rect x="400.65" y="643.80" width="45.52" height="45.66" fill="#fc9560"/><rect x="445.77" y="643.80" width="45.52" height="45.66" fill="#fda671"/><rect x="490.90" y="643.80" width="46.00" height="45.66" fill="#fc915c"/><rect x="86.40" y="689.06" width="43.90" height="45.66" fill="#8b1c17"/><rect x="129.90" y="689.06" width="45.52" height="45.66" fill="#ea5a3f"/><rect x="175.03" y="689.06" width="45.52" height="45.66" fill="#fc8c59"/><rect x="220.15" y="689.06" width="45.52" height="45.66" fill="#fdc48d"/><rect x="265.27" y="689.06" width="45.52" height="45.66" fill="#fee1b9"/><rect x="310.40" y="689.06" width="45.52" height="45.66" fill="#fff4e4"/><rect x="355.52" y="689.06" width="45.52" height="45.66" fill="#feebd0"/><rect x="400.65" y="689.06" width="45.52" height="45.66" fill="#fee1b9"/><rect x="445.77" y="689.06" width="45.52" height="45.66" fill="#fdd9a8"/><rect x="490.90" y="689.06" width="46.00" height="45.66" fill="#fdd6a2"/><rect x="86.40" y="734.32" width="43.90" height="45.66" fill="#8b1c17"/><rect x="129.90" y="734.32" width="45.52" height="45.66" fill="#f88053"/><rect x="175.03" y="734.32" width="45.52" height="45.66" fill="#fdc690"/><rect x="220.15" y="734.32" width="45.52" height="45.66" fill="#fdd6a2"/><rect x="265.27" y="734.32" width="45.52" height="45.66" fill="#fee6c4"/><rect x="310.40" y="734.32" width="45.52" height="45.66" fill="#feebd0"/><rect x="355.52" y="734.32" width="45.52" height="45.66" fill="#feebd0"/><rect x="400.65" y="734.32" width="45.52" height="45.66" fill="#fff4e4"/><rect x="445.77" y="734.32" width="45.52" height="45.66" fill="#feebd0"/><rect x="490.90" y="734.32" width="46.00" height="45.66" fill="#fee9ca"/><rect x="86.40" y="779.58" width="43.90" height="45.66" fill="#8b1c17"/><rect x="129.90" y="779.58" width="45.52" height="45.66" fill="#fc9f6a"/><rect x="175.03" y="779.58" width="45.52" height="45.66" fill="#fdca94"/><rect x="220.15" y="779.58" width="45.52" height="45.66" fill="#fddcaf"/><rect x="265.27" y="779.58" width="45.52" height="45.66" fill="#fee7c7"/><rect x="310.40" y="779.58" width="45.52" height="45.66" fill="#fee9ca"/><rect x="355.52" y="779.58" width="45.52" height="45.66" fill="#fee9ca"/><rect x="400.65" y="779.58" width="45.52" height="45.66" fill="#fdd9a8"/><rect x="445.77" y="779.58" width="45.52" height="45.66" fill="#fdd6a2"/><rect x="490.90" y="779.58" width="46.00" height="45.66" fill="#fee1b9"/><rect x="86.40" y="824.84" width="43.90" height="45.66" fill="#8b1c17"/><rect x="129.90" y="824.84" width="45.52" height="45.66" fill="#fda671"/><rect x="175.03" y="824.84" width="45.52" height="45.66" fill="#fdca94"/><rect x="220.15" y="824.84" width="45.52" height="45.66" fill="#fee4c0"/><rect x="265.27" y="824.84" width="45.52" height="45.66" fill="#fee4c0"/><rect x="310.40" y="824.84" width="45.52" height="45.66" fill="#fdd9a8"/><rect x="355.52" y="824.84" width="45.52" height="45.66" fill="#fdd8a6"/><rect x="400.65" y="824.84" width="45.52" height="45.66" fill="#fdd9a8"/><rect x="445.77" y="824.84" width="45.52" height="45.66" fill="#fdca94"/><rect x="490.90" y="824.84" width="46.00" height="45.66" fill="#fdd09a"/><rect x="86.40" y="870.10" width="43.90" height="45.66" fill="#8b1c17"/><rect x="129.90" y="870.10" width="45.52" height="45.66" fill="#fc8c59"/><rect x="175.03" y="870.10" width="45.52" height="45.66" fill="#fdc48d"/><rect x="220.15" y="870.10" width="45.52" height="45.66" fill="#fdd8a6"/><rect x="265.27" y="870.10" width="45.52" height="45.66" fill="#fdd8a6"/><rect x="310.40" y="870.10" width="45.52" height="45.66" fill="#fdd8a6"/><rect x="355.52" y="870.10" width="45.52" height="45.66" fill="#fdd8a6"/><rect x="400.65" y="870.10" width="45.52" height="45.66" fill="#fdc48d"/><rect x="445.77" y="870.10" width="45.52" height="45.66" fill="#fdbe87"/><rect x="490.90" y="870.10" width="46.00" height="45.66" fill="#fdb982"/><rect x="86.40" y="915.36" width="43.90" height="45.66" fill="#8b1c17"/><rect x="129.90" y="915.36" width="45.52" height="45.66" fill="#fc9863"/><rect x="175.03" y="915.36" width="45.52" height="45.66" fill="#fdc48d"/><rect x="220.15" y="915.36" width="45.52" height="45.66" fill="#fdd8a6"/><rect x="265.27" y="915.36" width="45.52" height="45.66" fill="#fdca94"/><rect x="310.40" y="915.36" width="45.52" height="45.66" fill="#fdd49e"/><rect x="355.52" y="915.36" width="45.52" height="45.66" fill="#fdc48d"/><rect x="400.65" y="915.36" width="45.52" height="45.66" fill="#fdc690"/><rect x="445.77" y="915.36" width="45.52" height="45.66" fill="#fdca94"/><rect x="490.90" y="915.36" width="46.00" height="45.66" fill="#fdb27b"/><rect x="86.40" y="960.62" width="43.90" height="45.66" fill="#8b1c17"/><rect x="129.90" y="960.62" width="45.52" height="45.66" fill="#fb8a58"/><rect x="175.03" y="960.62" width="45.52" height="45.66" fill="#fdbe87"/><rect x="220.15" y="960.62" width="45.52" height="45.66" fill="#fdc690"/><rect x="265.27" y="960.62" width="45.52" height="45.66" fill="#fdd49e"/><rect x="310.40" y="960.62" width="45.52" height="45.66" fill="#fdd49e"/><rect x="355.52" y="960.62" width="45.52" height="45.66" fill="#fdcc96"/><rect x="400.65" y="960.62" width="45.52" height="45.66" fill="#fdb67f"/><rect x="445.77" y="960.62" width="45.52" height="45.66" fill="#fc9f6a"/><rect x="490.90" y="960.62" width="46.00" height="45.66" fill="#fc9f6a"/><rect x="86.40" y="1005.88" width="43.90" height="44.12" fill="#8b1c17"/><rect x="129.90" y="1005.88" width="45.52" height="44.12" fill="#fb8a58"/><rect x="175.03" y="1005.88" width="45.52" height="44.12" fill="#fdbe87"/><rect x="220.15" y="1005.88" width="45.52" height="44.12" fill="#fdd29c"/><rect x="265.27" y="1005.88" width="45.52" height="44.12" fill="#fdc690"/><rect x="310.40" y="1005.88" width="45.52" height="44.12" fill="#fdb982"/><rect x="355.52" y="1005.88" width="45.52" height="44.12" fill="#fdc690"/><rect x="400.65" y="1005.88" width="45.52" height="44.12" fill="#fdb27b"/><rect x="445.77" y="1005.88" width="45.52" height="44.12" fill="#fca36e"/><rect x="490.90" y="1005.88" width="46.00" height="44.12" fill="#fc8c59"/></g>
<circle cx="449.10" cy="962.50" r="10.1" stroke="#2379bd" stroke-width="2.8" fill="none"/>
<line x1="448.55" y1="599.50" x2="448.55" y2="1049.60" stroke="#111" stroke-width="2.6" stroke-dasharray="8.3 8.2" stroke-dashoffset="1.0"/>
<line x1="86.40" y1="960.50" x2="536.50" y2="960.50" stroke="#111" stroke-width="2.6" stroke-dasharray="8.3 8.2" stroke-dashoffset="1.0"/>
<path d="M299.80 744.20h10M304.80 739.20v10" stroke="#377eb8" stroke-width="2.8" fill="none"/>
<path d="M298.80 751.10h10M303.80 746.10v10" stroke="#377eb8" stroke-width="2.8" fill="none"/>
<path d="M309.20 741.20h10M314.20 736.20v10" stroke="#377eb8" stroke-width="2.8" fill="none"/>
<path d="M312.90 739.00h10M317.90 734.00v10" stroke="#377eb8" stroke-width="2.8" fill="none"/>
<path d="M315.60 736.60h10M320.60 731.60v10" stroke="#377eb8" stroke-width="2.8" fill="none"/>
<path d="M320.50 736.60h10M325.50 731.60v10" stroke="#377eb8" stroke-width="2.8" fill="none"/>
<path d="M312.60 732.60h10M317.60 727.60v10" stroke="#377eb8" stroke-width="2.8" fill="none"/>
<path d="M314.60 728.70h10M319.60 723.70v10" stroke="#377eb8" stroke-width="2.8" fill="none"/>
<path d="M317.00 725.70h10M322.00 720.70v10" stroke="#377eb8" stroke-width="2.8" fill="none"/>
<path d="M319.50 723.70h10M324.50 718.70v10" stroke="#377eb8" stroke-width="2.8" fill="none"/>
<path d="M322.50 721.30h10M327.50 716.30v10" stroke="#377eb8" stroke-width="2.8" fill="none"/>
<path d="M325.40 719.80h10M330.40 714.80v10" stroke="#377eb8" stroke-width="2.8" fill="none"/>
<path d="M328.40 722.80h10M333.40 717.80v10" stroke="#377eb8" stroke-width="2.8" fill="none"/>
<path d="M327.90 726.70h10M332.90 721.70v10" stroke="#377eb8" stroke-width="2.8" fill="none"/>
<path d="M323.50 728.70h10M328.50 723.70v10" stroke="#377eb8" stroke-width="2.8" fill="none"/>
<path d="M319.50 732.60h10M324.50 727.60v10" stroke="#377eb8" stroke-width="2.8" fill="none"/>
<path d="M317.50 739.50h10M322.50 734.50v10" stroke="#377eb8" stroke-width="2.8" fill="none"/>
<path d="M316.00 731.00h10M321.00 726.00v10" stroke="#377eb8" stroke-width="2.8" fill="none"/>
<circle cx="334.45" cy="723.60" r="10.2" stroke="#16923a" stroke-width="2.8" fill="none"/>
<rect x="86.40" y="599.50" width="450.10" height="450.10" fill="none" stroke="#000" stroke-width="2.8"/>
<line x1="80.10" y1="599.50" x2="86.40" y2="599.50" stroke="#000" stroke-width="2.6"/>
<text x="75.00" y="606.30" text-anchor="end" font-size="19">0.0</text>
<line x1="86.40" y1="1049.60" x2="86.40" y2="1055.90" stroke="#000" stroke-width="2.6"/>
<text x="86.40" y="1074.60" text-anchor="middle" font-size="19">0.0</text>
<line x1="80.10" y1="672.07" x2="86.40" y2="672.07" stroke="#000" stroke-width="2.6"/>
<text x="75.00" y="678.87" text-anchor="end" font-size="19">0.2</text>
<line x1="158.97" y1="1049.60" x2="158.97" y2="1055.90" stroke="#000" stroke-width="2.6"/>
<text x="158.97" y="1074.60" text-anchor="middle" font-size="19">0.2</text>
<line x1="80.10" y1="744.64" x2="86.40" y2="744.64" stroke="#000" stroke-width="2.6"/>
<text x="75.00" y="751.44" text-anchor="end" font-size="19">0.4</text>
<line x1="231.54" y1="1049.60" x2="231.54" y2="1055.90" stroke="#000" stroke-width="2.6"/>
<text x="231.54" y="1074.60" text-anchor="middle" font-size="19">0.4</text>
<line x1="80.10" y1="817.20" x2="86.40" y2="817.20" stroke="#000" stroke-width="2.6"/>
<text x="75.00" y="824.00" text-anchor="end" font-size="19">0.6</text>
<line x1="304.10" y1="1049.60" x2="304.10" y2="1055.90" stroke="#000" stroke-width="2.6"/>
<text x="304.10" y="1074.60" text-anchor="middle" font-size="19">0.6</text>
<line x1="80.10" y1="889.77" x2="86.40" y2="889.77" stroke="#000" stroke-width="2.6"/>
<text x="75.00" y="896.57" text-anchor="end" font-size="19">0.8</text>
<line x1="376.67" y1="1049.60" x2="376.67" y2="1055.90" stroke="#000" stroke-width="2.6"/>
<text x="376.67" y="1074.60" text-anchor="middle" font-size="19">0.8</text>
<line x1="80.10" y1="962.34" x2="86.40" y2="962.34" stroke="#000" stroke-width="2.6"/>
<text x="75.00" y="969.14" text-anchor="end" font-size="19">1.0</text>
<line x1="449.24" y1="1049.60" x2="449.24" y2="1055.90" stroke="#000" stroke-width="2.6"/>
<text x="449.24" y="1074.60" text-anchor="middle" font-size="19">1.0</text>
<line x1="80.10" y1="1034.91" x2="86.40" y2="1034.91" stroke="#000" stroke-width="2.6"/>
<text x="75.00" y="1041.71" text-anchor="end" font-size="19">1.2</text>
<line x1="521.81" y1="1049.60" x2="521.81" y2="1055.90" stroke="#000" stroke-width="2.6"/>
<text x="521.81" y="1074.60" text-anchor="middle" font-size="19">1.2</text>
<text x="310.55" y="1100.70" font-size="27">α</text>
<text x="327.65" y="1109.90" font-size="17">r</text>
<g transform="translate(25.30 832.90) rotate(-90)"><text x="0" y="0" font-size="27">α</text><text x="15.6" y="9.4" font-size="17">s</text></g>
<text x="314.00" y="591.10" text-anchor="middle" font-size="29" font-weight="bold" letter-spacing="0.25">Sigmoid</text>
<defs><linearGradient id="gBL" x1="0" y1="1" x2="0" y2="0"><stop offset="0.000" stop-color="#fff7ec"/><stop offset="0.025" stop-color="#fff4e5"/><stop offset="0.050" stop-color="#fff1de"/><stop offset="0.075" stop-color="#feeed7"/><stop offset="0.100" stop-color="#feebd0"/><stop offset="0.125" stop-color="#fee8c8"/><stop offset="0.150" stop-color="#fee4c0"/><stop offset="0.175" stop-color="#fee0b8"/><stop offset="0.200" stop-color="#fddcaf"/><stop offset="0.225" stop-color="#fdd8a7"/><stop offset="0.250" stop-color="#fdd49e"/><stop offset="0.275" stop-color="#fdcf99"/><stop offset="0.300" stop-color="#fdca94"/><stop offset="0.325" stop-color="#fdc58e"/><stop offset="0.350" stop-color="#fdc089"/><stop offset="0.375" stop-color="#fdba83"/><stop offset="0.400" stop-color="#fdb27b"/><stop offset="0.425" stop-color="#fda973"/><stop offset="0.450" stop-color="#fc9f6a"/><stop offset="0.475" stop-color="#fc9662"/><stop offset="0.500" stop-color="#fc8c59"/><stop offset="0.525" stop-color="#f98556"/><stop offset="0.550" stop-color="#f77d52"/><stop offset="0.575" stop-color="#f4754f"/><stop offset="0.600" stop-color="#f26d4b"/><stop offset="0.625" stop-color="#ef6447"/><stop offset="0.650" stop-color="#ea5a3f"/><stop offset="0.675" stop-color="#e55038"/><stop offset="0.700" stop-color="#e0452d"/><stop offset="0.725" stop-color="#da3d26"/><stop offset="0.750" stop-color="#d4361f"/><stop offset="0.775" stop-color="#cf311e"/><stop offset="0.800" stop-color="#ca2c1d"/><stop offset="0.825" stop-color="#c3291d"/><stop offset="0.850" stop-color="#bc261d"/><stop offset="0.875" stop-color="#b3241c"/><stop offset="0.900" stop-color="#aa221c"/><stop offset="0.925" stop-color="#9f201a"/><stop offset="0.950" stop-color="#941e19"/><stop offset="0.975" stop-color="#891c17"/><stop offset="1.000" stop-color="#7e1a15"/></linearGradient></defs>
<rect x="558.50" y="599.50" width="22.30" height="450.10" fill="url(#gBL)" stroke="#000" stroke-width="2.8"/>
<line x1="580.80" y1="599.50" x2="587.10" y2="599.50" stroke="#000" stroke-width="2.6"/>
<text x="592.30" y="606.20" font-size="19" letter-spacing="0.4">-2.79</text>
<line x1="580.80" y1="824.55" x2="587.10" y2="824.55" stroke="#000" stroke-width="2.6"/>
<text x="592.30" y="831.25" font-size="19" letter-spacing="0.4">-6.42</text>
<line x1="580.80" y1="1049.60" x2="587.10" y2="1049.60" stroke="#000" stroke-width="2.6"/>
<text x="592.30" y="1056.30" font-size="19" letter-spacing="0.4">-10.06</text>
<text transform="translate(663.00 814.45) rotate(-90)" text-anchor="middle" font-size="25">Log(loss)</text>
<g shape-rendering="crispEdges"><rect x="790.15" y="599.00" width="44.15" height="45.20" fill="#7e1a15"/><rect x="833.90" y="599.00" width="45.61" height="45.20" fill="#941e19"/><rect x="879.11" y="599.00" width="45.61" height="45.20" fill="#9d201a"/><rect x="924.32" y="599.00" width="45.61" height="45.20" fill="#aa221c"/><rect x="969.53" y="599.00" width="45.61" height="45.20" fill="#aa221c"/><rect x="1014.74" y="599.00" width="45.61" height="45.20" fill="#b5241d"/><rect x="1059.95" y="599.00" width="45.61" height="45.20" fill="#bc261d"/><rect x="1105.16" y="599.00" width="45.61" height="45.20" fill="#bf271d"/><rect x="1150.37" y="599.00" width="45.61" height="45.20" fill="#bf271d"/><rect x="1195.58" y="599.00" width="44.52" height="45.20" fill="#bf271d"/><rect x="790.15" y="643.80" width="44.15" height="45.65" fill="#941e19"/><rect x="833.90" y="643.80" width="45.61" height="45.65" fill="#f98455"/><rect x="879.11" y="643.80" width="45.61" height="45.65" fill="#fdc48d"/><rect x="924.32" y="643.80" width="45.61" height="45.65" fill="#fddcaf"/><rect x="969.53" y="643.80" width="45.61" height="45.65" fill="#fedfb5"/><rect x="1014.74" y="643.80" width="45.61" height="45.65" fill="#fff1de"/><rect x="1059.95" y="643.80" width="45.61" height="45.65" fill="#feebd0"/><rect x="1105.16" y="643.80" width="45.61" height="45.65" fill="#fee7c7"/><rect x="1150.37" y="643.80" width="45.61" height="45.65" fill="#fdd9a8"/><rect x="1195.58" y="643.80" width="44.52" height="45.65" fill="#fee4c0"/><rect x="790.15" y="689.05" width="44.15" height="45.65" fill="#aa221c"/><rect x="833.90" y="689.05" width="45.61" height="45.65" fill="#fdc48d"/><rect x="879.11" y="689.05" width="45.61" height="45.65" fill="#fdd9a8"/><rect x="924.32" y="689.05" width="45.61" height="45.65" fill="#feeed5"/><rect x="969.53" y="689.05" width="45.61" height="45.65" fill="#fff0db"/><rect x="1014.74" y="689.05" width="45.61" height="45.65" fill="#fff0db"/><rect x="1059.95" y="689.05" width="45.61" height="45.65" fill="#fff5e6"/><rect x="1105.16" y="689.05" width="45.61" height="45.65" fill="#feefd9"/><rect x="1150.37" y="689.05" width="45.61" height="45.65" fill="#feebd0"/><rect x="1195.58" y="689.05" width="44.52" height="45.65" fill="#fff1de"/><rect x="790.15" y="734.30" width="44.15" height="45.65" fill="#b8251d"/><rect x="833.90" y="734.30" width="45.61" height="45.65" fill="#fddcaf"/><rect x="879.11" y="734.30" width="45.61" height="45.65" fill="#feebd0"/><rect x="924.32" y="734.30" width="45.61" height="45.65" fill="#feeed5"/><rect x="969.53" y="734.30" width="45.61" height="45.65" fill="#fff0db"/><rect x="1014.74" y="734.30" width="45.61" height="45.65" fill="#fff1de"/><rect x="1059.95" y="734.30" width="45.61" height="45.65" fill="#fee6c4"/><rect x="1105.16" y="734.30" width="45.61" height="45.65" fill="#fee9ca"/><rect x="1150.37" y="734.30" width="45.61" height="45.65" fill="#feeed5"/><rect x="1195.58" y="734.30" width="44.52" height="45.65" fill="#fddcaf"/><rect x="790.15" y="779.55" width="44.15" height="45.65" fill="#bf271d"/><rect x="833.90" y="779.55" width="45.61" height="45.65" fill="#fddeb3"/><rect x="879.11" y="779.55" width="45.61" height="45.65" fill="#feebd0"/><rect x="924.32" y="779.55" width="45.61" height="45.65" fill="#fff1de"/><rect x="969.53" y="779.55" width="45.61" height="45.65" fill="#fff0db"/><rect x="1014.74" y="779.55" width="45.61" height="45.65" fill="#feefd9"/><rect x="1059.95" y="779.55" width="45.61" height="45.65" fill="#feeed5"/><rect x="1105.16" y="779.55" width="45.61" height="45.65" fill="#feeed5"/><rect x="1150.37" y="779.55" width="45.61" height="45.65" fill="#feefd9"/><rect x="1195.58" y="779.55" width="44.52" height="45.65" fill="#fee7c7"/><rect x="790.15" y="824.80" width="44.15" height="45.65" fill="#d2341f"/><rect x="833.90" y="824.80" width="45.61" height="45.65" fill="#fddcaf"/><rect x="879.11" y="824.80" width="45.61" height="45.65" fill="#fedfb5"/><rect x="924.32" y="824.80" width="45.61" height="45.65" fill="#fff5e6"/><rect x="969.53" y="824.80" width="45.61" height="45.65" fill="#feeed5"/><rect x="1014.74" y="824.80" width="45.61" height="45.65" fill="#feeed5"/><rect x="1059.95" y="824.80" width="45.61" height="45.65" fill="#feebd0"/><rect x="1105.16" y="824.80" width="45.61" height="45.65" fill="#feebd0"/><rect x="1150.37" y="824.80" width="45.61" height="45.65" fill="#fee3bd"/><rect x="1195.58" y="824.80" width="44.52" height="45.65" fill="#fedfb5"/><rect x="790.15" y="870.05" width="44.15" height="45.65" fill="#db3f27"/><rect x="833.90" y="870.05" width="45.61" height="45.65" fill="#fee9ca"/><rect x="879.11" y="870.05" width="45.61" height="45.65" fill="#feebd0"/><rect x="924.32" y="870.05" width="45.61" height="45.65" fill="#feebd0"/><rect x="969.53" y="870.05" width="45.61" height="45.65" fill="#fee4c0"/><rect x="1014.74" y="870.05" width="45.61" height="45.65" fill="#fee9ca"/><rect x="1059.95" y="870.05" width="45.61" height="45.65" fill="#feebd0"/><rect x="1105.16" y="870.05" width="45.61" height="45.65" fill="#fddcaf"/><rect x="1150.37" y="870.05" width="45.61" height="45.65" fill="#fddcaf"/><rect x="1195.58" y="870.05" width="44.52" height="45.65" fill="#fdd8a6"/><rect x="790.15" y="915.30" width="44.15" height="45.65" fill="#d2341f"/><rect x="833.90" y="915.30" width="45.61" height="45.65" fill="#fdd9a8"/><rect x="879.11" y="915.30" width="45.61" height="45.65" fill="#fee7c7"/><rect x="924.32" y="915.30" width="45.61" height="45.65" fill="#feebd0"/><rect x="969.53" y="915.30" width="45.61" height="45.65" fill="#feeed5"/><rect x="1014.74" y="915.30" width="45.61" height="45.65" fill="#feeed5"/><rect x="1059.95" y="915.30" width="45.61" height="45.65" fill="#fedfb5"/><rect x="1105.16" y="915.30" width="45.61" height="45.65" fill="#fddcaf"/><rect x="1150.37" y="915.30" width="45.61" height="45.65" fill="#fddeb3"/><rect x="1195.58" y="915.30" width="44.52" height="45.65" fill="#fdd9a8"/><rect x="790.15" y="960.55" width="44.15" height="45.65" fill="#ca2c1d"/><rect x="833.90" y="960.55" width="45.61" height="45.65" fill="#fdd29c"/><rect x="879.11" y="960.55" width="45.61" height="45.65" fill="#feebd0"/><rect x="924.32" y="960.55" width="45.61" height="45.65" fill="#fedfb5"/><rect x="969.53" y="960.55" width="45.61" height="45.65" fill="#fee4c0"/><rect x="1014.74" y="960.55" width="45.61" height="45.65" fill="#fee1b9"/><rect x="1059.95" y="960.55" width="45.61" height="45.65" fill="#fee9ca"/><rect x="1105.16" y="960.55" width="45.61" height="45.65" fill="#fddcaf"/><rect x="1150.37" y="960.55" width="45.61" height="45.65" fill="#fee4c0"/><rect x="1195.58" y="960.55" width="44.52" height="45.65" fill="#fdce98"/><rect x="790.15" y="1005.80" width="44.15" height="43.60" fill="#e44d35"/><rect x="833.90" y="1005.80" width="45.61" height="43.60" fill="#fdd9a8"/><rect x="879.11" y="1005.80" width="45.61" height="43.60" fill="#fee9ca"/><rect x="924.32" y="1005.80" width="45.61" height="43.60" fill="#fee9ca"/><rect x="969.53" y="1005.80" width="45.61" height="43.60" fill="#feebd0"/><rect x="1014.74" y="1005.80" width="45.61" height="43.60" fill="#fddcaf"/><rect x="1059.95" y="1005.80" width="45.61" height="43.60" fill="#fee7c7"/><rect x="1105.16" y="1005.80" width="45.61" height="43.60" fill="#fedfb5"/><rect x="1150.37" y="1005.80" width="45.61" height="43.60" fill="#fddcaf"/><rect x="1195.58" y="1005.80" width="44.52" height="43.60" fill="#fdd8a6"/></g>
<circle cx="1152.95" cy="962.10" r="10.1" stroke="#2379bd" stroke-width="2.8" fill="none"/>
<line x1="1152.60" y1="599.00" x2="1152.60" y2="1049.00" stroke="#111" stroke-width="2.6" stroke-dasharray="8.3 8.2" stroke-dashoffset="1.0"/>
<line x1="790.15" y1="962.50" x2="1239.70" y2="962.50" stroke="#111" stroke-width="2.6" stroke-dasharray="8.3 8.2" stroke-dashoffset="1.0"/>
<path d="M1056.40 634.90h10M1061.40 629.90v10" stroke="#377eb8" stroke-width="2.8" fill="none"/>
<path d="M1045.60 645.20h10M1050.60 640.20v10" stroke="#377eb8" stroke-width="2.8" fill="none"/>
<path d="M1055.50 644.80h10M1060.50 639.80v10" stroke="#377eb8" stroke-width="2.8" fill="none"/>
<path d="M1055.50 652.30h10M1060.50 647.30v10" stroke="#377eb8" stroke-width="2.8" fill="none"/>
<path d="M1052.70 648.50h10M1057.70 643.50v10" stroke="#377eb8" stroke-width="2.8" fill="none"/>
<path d="M1047.00 656.00h10M1052.00 651.00v10" stroke="#377eb8" stroke-width="2.8" fill="none"/>
<path d="M1050.80 656.00h10M1055.80 651.00v10" stroke="#377eb8" stroke-width="2.8" fill="none"/>
<path d="M1048.40 662.60h10M1053.40 657.60v10" stroke="#377eb8" stroke-width="2.8" fill="none"/>
<path d="M1051.70 659.80h10M1056.70 654.80v10" stroke="#377eb8" stroke-width="2.8" fill="none"/>
<path d="M1049.40 665.50h10M1054.40 660.50v10" stroke="#377eb8" stroke-width="2.8" fill="none"/>
<path d="M1010.60 671.30h10M1015.60 666.30v10" stroke="#377eb8" stroke-width="2.8" fill="none"/>
<path d="M1034.10 666.40h10M1039.10 661.40v10" stroke="#377eb8" stroke-width="2.8" fill="none"/>
<path d="M1043.70 671.60h10M1048.70 666.60v10" stroke="#377eb8" stroke-width="2.8" fill="none"/>
<path d="M1050.80 675.80h10M1055.80 670.80v10" stroke="#377eb8" stroke-width="2.8" fill="none"/>
<path d="M1033.40 677.70h10M1038.40 672.70v10" stroke="#377eb8" stroke-width="2.8" fill="none"/>
<path d="M1028.20 681.40h10M1033.20 676.40v10" stroke="#377eb8" stroke-width="2.8" fill="none"/>
<path d="M1039.50 688.00h10M1044.50 683.00v10" stroke="#377eb8" stroke-width="2.8" fill="none"/>
<path d="M1042.30 689.90h10M1047.30 684.90v10" stroke="#377eb8" stroke-width="2.8" fill="none"/>
<path d="M1029.20 695.10h10M1034.20 690.10v10" stroke="#377eb8" stroke-width="2.8" fill="none"/>
<path d="M1023.00 699.30h10M1028.00 694.30v10" stroke="#377eb8" stroke-width="2.8" fill="none"/>
<path d="M1025.90 703.10h10M1030.90 698.10v10" stroke="#377eb8" stroke-width="2.8" fill="none"/>
<path d="M1011.80 707.00h10M1016.80 702.00v10" stroke="#377eb8" stroke-width="2.8" fill="none"/>
<path d="M1011.50 718.60h10M1016.50 713.60v10" stroke="#377eb8" stroke-width="2.8" fill="none"/>
<path d="M1022.60 720.00h10M1027.60 715.00v10" stroke="#377eb8" stroke-width="2.8" fill="none"/>
<path d="M959.50 731.00h10M964.50 726.00v10" stroke="#377eb8" stroke-width="2.8" fill="none"/>
<path d="M928.50 749.00h10M933.50 744.00v10" stroke="#377eb8" stroke-width="2.8" fill="none"/>
<path d="M902.40 763.70h10M907.40 758.70v10" stroke="#377eb8" stroke-width="2.8" fill="none"/>
<path d="M974.40 764.20h10M979.40 759.20v10" stroke="#377eb8" stroke-width="2.8" fill="none"/>
<path d="M944.00 786.30h10M949.00 781.30v10" stroke="#377eb8" stroke-width="2.8" fill="none"/>
<path d="M957.90 791.30h10M962.90 786.30v10" stroke="#377eb8" stroke-width="2.8" fill="none"/>
<path d="M910.70 792.40h10M915.70 787.40v10" stroke="#377eb8" stroke-width="2.8" fill="none"/>
<path d="M912.70 797.40h10M917.70 792.40v10" stroke="#377eb8" stroke-width="2.8" fill="none"/>
<path d="M913.60 817.80h10M918.60 812.80v10" stroke="#377eb8" stroke-width="2.8" fill="none"/>
<path d="M875.90 823.30h10M880.90 818.30v10" stroke="#377eb8" stroke-width="2.8" fill="none"/>
<path d="M881.30 822.80h10M886.30 817.80v10" stroke="#377eb8" stroke-width="2.8" fill="none"/>
<path d="M848.90 868.40h10M853.90 863.40v10" stroke="#377eb8" stroke-width="2.8" fill="none"/>
<path d="M1052.70 647.60h10M1057.70 642.60v10" stroke="#377eb8" stroke-width="2.8" fill="none"/>
<path d="M1054.60 653.20h10M1059.60 648.20v10" stroke="#377eb8" stroke-width="2.8" fill="none"/>
<path d="M1050.80 660.70h10M1055.80 655.70v10" stroke="#377eb8" stroke-width="2.8" fill="none"/>
<path d="M1048.90 664.50h10M1053.90 659.50v10" stroke="#377eb8" stroke-width="2.8" fill="none"/>
<path d="M1056.40 646.60h10M1061.40 641.60v10" stroke="#377eb8" stroke-width="2.8" fill="none"/>
<path d="M1052.70 656.00h10M1057.70 651.00v10" stroke="#377eb8" stroke-width="2.8" fill="none"/>
<path d="M1047.00 651.30h10M1052.00 646.30v10" stroke="#377eb8" stroke-width="2.8" fill="none"/>
<path d="M1055.50 650.40h10M1060.50 645.40v10" stroke="#377eb8" stroke-width="2.8" fill="none"/>
<path d="M1051.00 652.00h10M1056.00 647.00v10" stroke="#377eb8" stroke-width="2.8" fill="none"/>
<path d="M1053.00 644.00h10M1058.00 639.00v10" stroke="#377eb8" stroke-width="2.8" fill="none"/>
<circle cx="1037.70" cy="722.50" r="10.2" stroke="#16923a" stroke-width="2.8" fill="none"/>
<rect x="790.15" y="599.00" width="449.55" height="450.00" fill="none" stroke="#000" stroke-width="2.8"/>
<line x1="783.85" y1="599.00" x2="790.15" y2="599.00" stroke="#000" stroke-width="2.6"/>
<text x="778.75" y="605.80" text-anchor="end" font-size="19">0.0</text>
<line x1="790.15" y1="1049.00" x2="790.15" y2="1055.30" stroke="#000" stroke-width="2.6"/>
<text x="790.15" y="1074.00" text-anchor="middle" font-size="19">0.0</text>
<line x1="783.85" y1="671.52" x2="790.15" y2="671.52" stroke="#000" stroke-width="2.6"/>
<text x="778.75" y="678.32" text-anchor="end" font-size="19">0.2</text>
<line x1="862.67" y1="1049.00" x2="862.67" y2="1055.30" stroke="#000" stroke-width="2.6"/>
<text x="862.67" y="1074.00" text-anchor="middle" font-size="19">0.2</text>
<line x1="783.85" y1="744.03" x2="790.15" y2="744.03" stroke="#000" stroke-width="2.6"/>
<text x="778.75" y="750.83" text-anchor="end" font-size="19">0.4</text>
<line x1="935.18" y1="1049.00" x2="935.18" y2="1055.30" stroke="#000" stroke-width="2.6"/>
<text x="935.18" y="1074.00" text-anchor="middle" font-size="19">0.4</text>
<line x1="783.85" y1="816.55" x2="790.15" y2="816.55" stroke="#000" stroke-width="2.6"/>
<text x="778.75" y="823.35" text-anchor="end" font-size="19">0.6</text>
<line x1="1007.70" y1="1049.00" x2="1007.70" y2="1055.30" stroke="#000" stroke-width="2.6"/>
<text x="1007.70" y="1074.00" text-anchor="middle" font-size="19">0.6</text>
<line x1="783.85" y1="889.06" x2="790.15" y2="889.06" stroke="#000" stroke-width="2.6"/>
<text x="778.75" y="895.86" text-anchor="end" font-size="19">0.8</text>
<line x1="1080.21" y1="1049.00" x2="1080.21" y2="1055.30" stroke="#000" stroke-width="2.6"/>
<text x="1080.21" y="1074.00" text-anchor="middle" font-size="19">0.8</text>
<line x1="783.85" y1="961.58" x2="790.15" y2="961.58" stroke="#000" stroke-width="2.6"/>
<text x="778.75" y="968.38" text-anchor="end" font-size="19">1.0</text>
<line x1="1152.73" y1="1049.00" x2="1152.73" y2="1055.30" stroke="#000" stroke-width="2.6"/>
<text x="1152.73" y="1074.00" text-anchor="middle" font-size="19">1.0</text>
<line x1="783.85" y1="1034.09" x2="790.15" y2="1034.09" stroke="#000" stroke-width="2.6"/>
<text x="778.75" y="1040.89" text-anchor="end" font-size="19">1.2</text>
<line x1="1225.24" y1="1049.00" x2="1225.24" y2="1055.30" stroke="#000" stroke-width="2.6"/>
<text x="1225.24" y="1074.00" text-anchor="middle" font-size="19">1.2</text>
<text x="1018.45" y="1101.70" font-size="27">α</text>
<text x="1035.75" y="1109.90" font-size="17">r</text>
<g transform="translate(729.00 837.30) rotate(-90)"><text x="0" y="0" font-size="27">α</text><text x="15.6" y="9.4" font-size="17">s</text></g>
<text x="1018.10" y="595.10" text-anchor="middle" font-size="29" font-weight="bold">ReLU</text>
<defs><linearGradient id="gBR" x1="0" y1="1" x2="0" y2="0"><stop offset="0.000" stop-color="#fff7ec"/><stop offset="0.025" stop-color="#fff4e5"/><stop offset="0.050" stop-color="#fff1de"/><stop offset="0.075" stop-color="#feeed7"/><stop offset="0.100" stop-color="#feebd0"/><stop offset="0.125" stop-color="#fee8c8"/><stop offset="0.150" stop-color="#fee4c0"/><stop offset="0.175" stop-color="#fee0b8"/><stop offset="0.200" stop-color="#fddcaf"/><stop offset="0.225" stop-color="#fdd8a7"/><stop offset="0.250" stop-color="#fdd49e"/><stop offset="0.275" stop-color="#fdcf99"/><stop offset="0.300" stop-color="#fdca94"/><stop offset="0.325" stop-color="#fdc58e"/><stop offset="0.350" stop-color="#fdc089"/><stop offset="0.375" stop-color="#fdba83"/><stop offset="0.400" stop-color="#fdb27b"/><stop offset="0.425" stop-color="#fda973"/><stop offset="0.450" stop-color="#fc9f6a"/><stop offset="0.475" stop-color="#fc9662"/><stop offset="0.500" stop-color="#fc8c59"/><stop offset="0.525" stop-color="#f98556"/><stop offset="0.550" stop-color="#f77d52"/><stop offset="0.575" stop-color="#f4754f"/><stop offset="0.600" stop-color="#f26d4b"/><stop offset="0.625" stop-color="#ef6447"/><stop offset="0.650" stop-color="#ea5a3f"/><stop offset="0.675" stop-color="#e55038"/><stop offset="0.700" stop-color="#e0452d"/><stop offset="0.725" stop-color="#da3d26"/><stop offset="0.750" stop-color="#d4361f"/><stop offset="0.775" stop-color="#cf311e"/><stop offset="0.800" stop-color="#ca2c1d"/><stop offset="0.825" stop-color="#c3291d"/><stop offset="0.850" stop-color="#bc261d"/><stop offset="0.875" stop-color="#b3241c"/><stop offset="0.900" stop-color="#aa221c"/><stop offset="0.925" stop-color="#9f201a"/><stop offset="0.950" stop-color="#941e19"/><stop offset="0.975" stop-color="#891c17"/><stop offset="1.000" stop-color="#7e1a15"/></linearGradient></defs>
<rect x="1261.70" y="599.00" width="22.30" height="450.00" fill="url(#gBR)" stroke="#000" stroke-width="2.8"/>
<line x1="1284.00" y1="599.00" x2="1290.30" y2="599.00" stroke="#000" stroke-width="2.6"/>
<text x="1295.50" y="605.70" font-size="19" letter-spacing="0.4">-2.91</text>
<line x1="1284.00" y1="824.00" x2="1290.30" y2="824.00" stroke="#000" stroke-width="2.6"/>
<text x="1295.50" y="830.70" font-size="19" letter-spacing="0.4">-5.41</text>
<line x1="1284.00" y1="1049.00" x2="1290.30" y2="1049.00" stroke="#000" stroke-width="2.6"/>
<text x="1295.50" y="1055.70" font-size="19" letter-spacing="0.4">-7.91</text>
<text transform="translate(1367.90 812.10) rotate(-90)" text-anchor="middle" font-size="25">Log(loss)</text>
</svg></body></html>
